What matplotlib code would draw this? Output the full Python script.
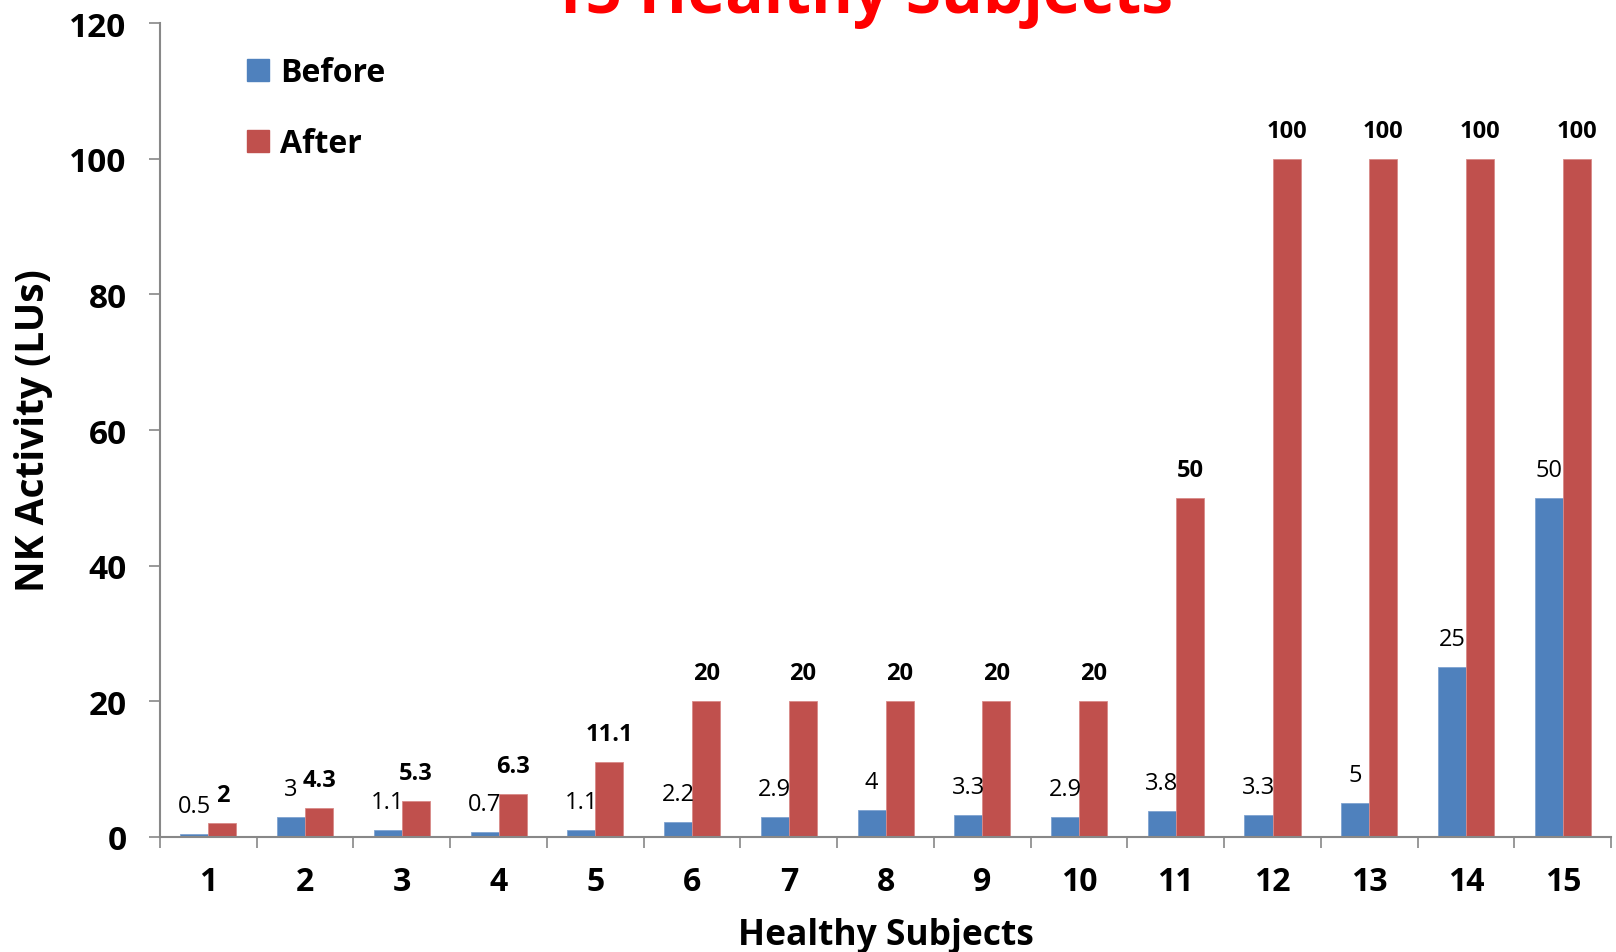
import matplotlib
matplotlib.use('Agg')
import matplotlib.pyplot as plt
import matplotlib.patches as patches
import numpy as np

plt.rcParams['font.family'] = ['Open Sans', 'DejaVu Sans']

subjects = [str(i) for i in range(1, 16)]
before = [0.5, 3, 1.1, 0.7, 1.1, 2.2, 2.9, 4, 3.3, 2.9, 3.8, 3.3, 5, 25, 50]
after = [2, 4.3, 5.3, 6.3, 11.1, 20, 20, 20, 20, 20, 50, 100, 100, 100, 100]

blue = '#4F81BD'
red = '#C0504D'

fig = plt.figure(figsize=(16.16, 9.53), dpi=100)
ax = fig.add_axes([0.099, 0.1207, 0.898, 0.854])

x = np.arange(len(subjects))
w = 0.29
ax.bar(x - w / 2, before, w, color=blue, edgecolor='#7FA3D0', linewidth=0.6, label='Before', zorder=2)
ax.bar(x + w / 2, after, w, color=red, edgecolor='#D98A88', linewidth=0.6, label='After', zorder=2)

# data labels
for xi, v in zip(x, before):
    ax.annotate(f'{v:g}', (xi - w / 2, v), xytext=(0, 28), textcoords='offset pixels',
                ha='center', va='center', fontsize=17, color='black')
for xi, v in zip(x, after):
    ax.annotate(f'{v:g}', (xi + w / 2, v), xytext=(0, 28), textcoords='offset pixels',
                ha='center', va='center', fontsize=17, fontweight='bold', color='black')

ax.set_xlim(-0.5, len(subjects) - 0.5)
ax.set_ylim(0, 120)
ax.set_yticks(range(0, 121, 20))
ax.set_xticks(x)
ax.set_xticklabels(subjects)
ax.set_xticks(np.arange(-0.5, len(subjects), 1), minor=True)
ax.tick_params(axis='x', which='major', length=0, pad=20, labelsize=23)
ax.tick_params(axis='x', which='minor', length=8, color='#888888', width=1.2)
ax.tick_params(axis='y', length=8, color='#888888', width=1.2, labelsize=24, pad=16)
for lab in ax.get_xticklabels() + ax.get_yticklabels():
    lab.set_fontweight('bold')

for s in ['top', 'right']:
    ax.spines[s].set_visible(False)
for s in ['left', 'bottom']:
    ax.spines[s].set_color('#888888')
    ax.spines[s].set_linewidth(1.5)

ax.set_xlabel('Healthy Subjects', fontsize=25.5, fontweight='bold', labelpad=14)
ax.set_ylabel('NK Activity (LUs)', fontsize=28, fontweight='bold', labelpad=12)

fig.text(0.533, 0.9867, '15 Healthy Subjects', color='#FF0000', fontsize=46,
         fontweight='bold', ha='center', va='baseline')

handles = [patches.Patch(color=blue, label='Before'), patches.Patch(color=red, label='After')]
ax.legend(handles=handles, loc='upper left', bbox_to_anchor=(0.04, 0.995), frameon=False,
          handlelength=0.7, handleheight=0.7, handletextpad=0.35, labelspacing=1.2,
          prop={'size': 23, 'weight': 'bold'})

fig.savefig('out.png', dpi=100)
